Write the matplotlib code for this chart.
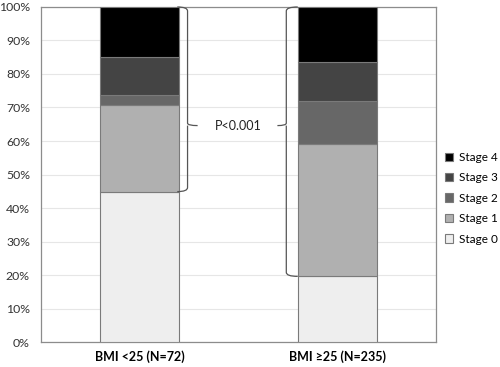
import matplotlib.pyplot as plt
from matplotlib.path import Path
from matplotlib.patches import PathPatch
import numpy as np

plt.rcParams['font.family'] = ['Lato', 'DejaVu Sans']

groups = ["BMI <25 (N=72)", "BMI \u226525 (N=235)"]
stages = ["Stage 0", "Stage 1", "Stage 2", "Stage 3", "Stage 4"]
# percent of each group in each stage
stage0 = [44.9, 19.6]
stage1 = [25.9, 39.4]
stage2 = [2.8, 13.0]
stage3 = [11.5, 11.7]
stage4 = [14.9, 16.3]
colors = ["#eeeeee", "#b0b0b0", "#676767", "#444444", "#000000"]
p_text = "P<0.001"

fig = plt.figure(figsize=(5, 3.67), dpi=100)
ax = fig.add_axes([0.082, 0.068, 0.79, 0.913])

x = np.arange(len(groups))
width = 0.4
bottom = np.zeros(len(groups))
handles = []
for name, vals, c in zip(stages, [stage0, stage1, stage2, stage3, stage4], colors):
    b = ax.bar(x, vals, width, bottom=bottom, color=c, edgecolor="#7a7a7a",
               linewidth=0.8, label=name, zorder=3)
    handles.append(b)
    bottom += np.array(vals)

ax.set_xlim(-0.5, 1.5)
ax.set_ylim(0, 100)
ax.set_yticks(np.arange(0, 101, 10))
ax.set_yticklabels([f"{v}%" for v in range(0, 101, 10)], fontsize=8.8, color="#333333")
ax.set_xticks(x)
ax.set_xticklabels(groups, fontsize=9, fontweight="bold")
ax.tick_params(axis="y", length=0, pad=8)
ax.tick_params(axis="x", length=0, pad=6)
ax.yaxis.grid(True, color="#e6e6e6", linewidth=0.8, zorder=0)
for s in ax.spines.values():
    s.set_color("#8c8c8c")
    s.set_linewidth(0.9)

# braces showing the compared segments
tip_y = 64.6


def brace(ax, x0, xv, xt, y_lo, y_hi, yt):
    r = 1.2
    verts = [(x0, y_hi), (xv, y_hi), (xv, y_hi - r),
             (xv, yt + r * 0.6), (xv, yt), (xt, yt),
             (xv, yt), (xv, yt - r * 0.6),
             (xv, y_lo + r), (xv, y_lo), (x0, y_lo)]
    codes = [Path.MOVETO, Path.CURVE3, Path.CURVE3,
             Path.LINETO, Path.CURVE3, Path.CURVE3,
             Path.MOVETO, Path.CURVE3,
             Path.LINETO, Path.CURVE3, Path.CURVE3]
    ax.add_patch(PathPatch(Path(verts, codes), fill=False, edgecolor="#555555",
                           linewidth=0.9, zorder=4, clip_on=False))


brace(ax, 0.19, 0.242, 0.293, stage0[0], 100, tip_y)
brace(ax, 0.80, 0.742, 0.697, stage0[1], 100, tip_y)
ax.text(0.5, tip_y, p_text, ha="center", va="center", fontsize=9, color="#222222")

leg = fig.legend(handles[::-1], stages[::-1], loc="center left",
                 bbox_to_anchor=(0.89, 0.46), frameon=False, fontsize=8.5,
                 handlelength=0.7, handleheight=0.7, labelspacing=0.8,
                 handletextpad=0.5, borderpad=0, borderaxespad=0)

fig.savefig("out.png", dpi=100)
